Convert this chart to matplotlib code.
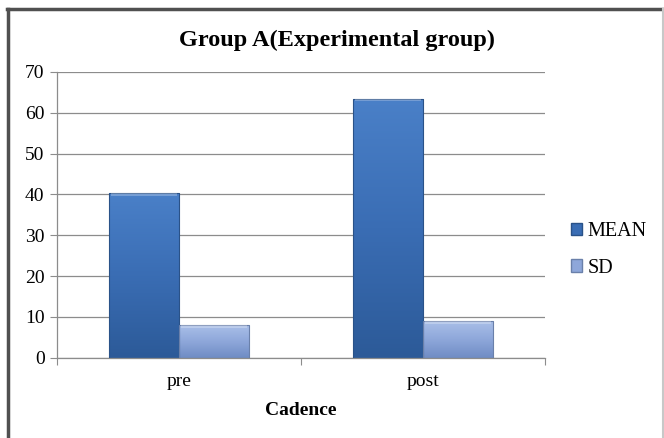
import numpy as np
import matplotlib
matplotlib.use("Agg")
import matplotlib.pyplot as plt
from matplotlib.patches import Rectangle
from matplotlib.lines import Line2D
from matplotlib.colors import LinearSegmentedColormap

categories = ["pre", "post"]
mean_values = [40.3, 63.5]
sd_values = [7.9, 8.9]
series_names = ["MEAN", "SD"]
y_ticks = [0, 10, 20, 30, 40, 50, 60, 70]

plt.rcParams["font.family"] = ["Liberation Serif", "DejaVu Serif"]

W, H = 664, 438
fig = plt.figure(figsize=(W / 100, H / 100), dpi=100)
ax = fig.add_axes([57 / W, 1 - 357.7 / H, (545 - 57) / W, (357.7 - 72) / H])

x = np.arange(len(categories))
width = 0.287

mean_cmap = LinearSegmentedColormap.from_list(
    "mean", ["#2c5a98", "#3a6db4", "#4a80c8"])
sd_cmap = LinearSegmentedColormap.from_list(
    "sd", ["#6f8cc4", "#8ea7da", "#a9bfe8"])


def gradient_bars(xs, heights, cmap, edge):
    bars = ax.bar(xs, heights, width, color="none", edgecolor=edge,
                  linewidth=0.8, zorder=3)
    grad = np.linspace(0, 1, 256).reshape(-1, 1)
    for b in bars:
        x0, y0 = b.get_x(), b.get_y()
        w, h = b.get_width(), b.get_height()
        im = ax.imshow(grad, extent=[x0, x0 + w, y0, y0 + h], origin="lower",
                       cmap=cmap, aspect="auto", zorder=2)
        clip = Rectangle((x0, y0), w, h, transform=ax.transData)
        im.set_clip_path(clip)
        # bevel highlight along the top edge
        ax.add_patch(Rectangle((x0 + w * 0.03, y0 + h - 0.6), w * 0.94, 0.6,
                               facecolor="white", alpha=0.25, lw=0, zorder=3))
    return bars


gradient_bars(x - width / 2, mean_values, mean_cmap, "#2a5288")
gradient_bars(x + width / 2, sd_values, sd_cmap, "#6a80aa")

ax.set_xlim(-0.5, 1.5)
ax.set_ylim(0, 70)
ax.set_yticks(y_ticks)
ax.yaxis.grid(True, color="#8c8c8c", linewidth=0.9, zorder=0)
ax.set_axisbelow(True)

ax.set_xticks([-0.5, 0.5, 1.5])
ax.set_xticklabels([])
ax.set_xticks(x, minor=True)
ax.set_xticklabels(categories, minor=True)
ax.tick_params(axis="x", which="minor", length=0, pad=11, labelsize=14)
ax.tick_params(axis="x", which="major", length=5, color="#8c8c8c")
ax.tick_params(axis="y", length=5, color="#8c8c8c", labelsize=14, pad=4)

for s in ["top", "right"]:
    ax.spines[s].set_visible(False)
for s in ["left", "bottom"]:
    ax.spines[s].set_color("#8c8c8c")
    ax.spines[s].set_linewidth(0.9)

ax.set_xlabel("Cadence", fontsize=14, fontweight="bold", labelpad=9)

fig.text(0.508, 1 - 40 / H, "Group A(Experimental group)", ha="center",
         va="center", fontsize=17.5, fontweight="bold")

# legend
legend_handles = [
    Rectangle((0, 0), 1, 1, facecolor="#3a6db4", edgecolor="#2a5288"),
    Rectangle((0, 0), 1, 1, facecolor="#8ea7da", edgecolor="#6a80aa"),
]
fig.legend(legend_handles, series_names, loc="center left",
           bbox_to_anchor=(553 / W, 1 - 250 / H), frameon=False,
           fontsize=14.5, handlelength=0.55, handleheight=0.55,
           handletextpad=0.25, labelspacing=0.85)

# chart frame: dark top/left edges, light right edge
fig.add_artist(Line2D([7 / W, 663 / W], [1 - 9 / H, 1 - 9 / H],
                      color="#505050", linewidth=2.5, transform=fig.transFigure))
fig.add_artist(Line2D([8 / W, 8 / W], [0, 1 - 9 / H],
                      color="#505050", linewidth=2.5, transform=fig.transFigure))
fig.add_artist(Line2D([662.5 / W, 662.5 / W], [0, 1 - 9 / H],
                      color="#c8c8c8", linewidth=1.5, transform=fig.transFigure))

fig.savefig("out.png", dpi=100, facecolor="white")
